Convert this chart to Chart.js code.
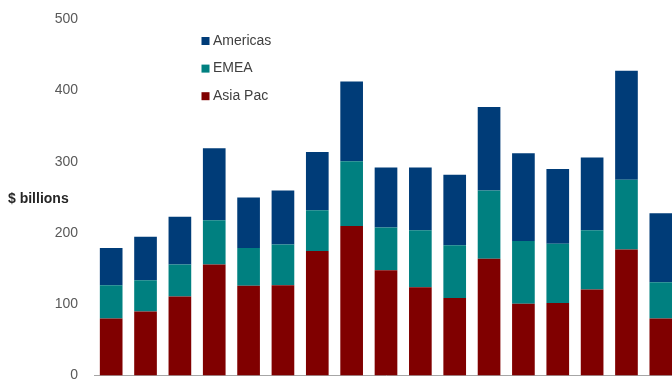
<!DOCTYPE html>
<html>
<head>
<meta charset="utf-8">
<script src="https://cdn.jsdelivr.net/npm/chart.js@4.4.1/dist/chart.umd.min.js"></script>
<style>
    html, body { margin: 0; padding: 0; background: #fff; overflow: hidden; }
    #wrap { position: relative; width: 672px; height: 381px; overflow: hidden; }
    #wrap canvas { position: absolute; left: 0; top: -5px; }
</style>
</head>
<body>
<div id="wrap"><canvas id="regionChart" width="680" height="405" style="width:680px;height:405px"></canvas></div>
<script>
// periods are not labelled in the source, only counted
const periods = ['1', '2', '3', '4', '5', '6', '7', '8', '9', '10', '11', '12', '13', '14', '15', '16', '17'];
const asiaPac  = [80, 90, 111, 156, 126, 127, 175, 210, 148, 124, 109, 164, 101, 102, 121, 177, 80];
const emea     = [47, 44, 45, 62, 53, 57, 57, 91, 60, 80, 74, 96, 88, 83, 83, 98, 51];
const americas = [52, 61, 67, 101, 71, 76, 82, 112, 84, 88, 99, 117, 123, 105, 102, 153, 97];
const yTicks = [0, 100, 200, 300, 400, 500];
const axisTitle = '$ billions';

const font = '"Liberation Sans", Arial, sans-serif';
const offY = 5; // canvas sits 5px above the page top

// legend (stacked list, top series first) and the side title
const sideText = {
    id: 'sideText',
    afterDraw(chart) {
        const ctx = chart.ctx;
        ctx.save();
        ctx.textBaseline = 'middle';
        ctx.font = 'bold 14px ' + font;
        ctx.fillStyle = '#262626';
        ctx.fillText(axisTitle, 8, 199 + offY);

        ctx.font = '14px ' + font;
        chart.data.datasets.slice().reverse().forEach((ds, i) => {
            const y = 41 + offY + i * 27.6;
            ctx.fillStyle = ds.backgroundColor;
            ctx.fillRect(201.5, y - 4, 8, 8);
            ctx.fillStyle = '#404040';
            ctx.fillText(ds.label, 213, y);
        });
        ctx.restore();
    }
};

new Chart(document.getElementById('regionChart').getContext('2d'), {
    type: 'bar',
    data: {
        labels: periods,
        datasets: [
            { label: 'Asia Pac', data: asiaPac, backgroundColor: '#800000' },
            { label: 'EMEA', data: emea, backgroundColor: '#008080' },
            { label: 'Americas', data: americas, backgroundColor: '#003c78' }
        ]
    },
    options: {
        responsive: false,
        animation: false,
        barPercentage: 0.66,
        categoryPercentage: 1,
        layout: { padding: { top: 12, bottom: 6, left: 0, right: 2 } },
        plugins: { legend: { display: false }, tooltip: { enabled: false } },
        scales: {
            x: {
                stacked: true,
                grid: { display: false, drawTicks: false },
                ticks: { display: false },
                border: { display: true, color: '#a6a6a6', width: 1 },
                afterFit: s => { s.height = 0; }
            },
            y: {
                stacked: true,
                min: yTicks[0],
                max: yTicks[yTicks.length - 1],
                afterBuildTicks: s => { s.ticks = yTicks.map(v => ({ value: v })); },
                grid: { display: false, drawTicks: false },
                border: { display: false },
                ticks: { color: '#595959', font: { family: font, size: 14 }, padding: 16 },
                afterFit: s => { s.width = 94; }
            }
        }
    },
    plugins: [sideText]
});
</script>
</body>
</html>
